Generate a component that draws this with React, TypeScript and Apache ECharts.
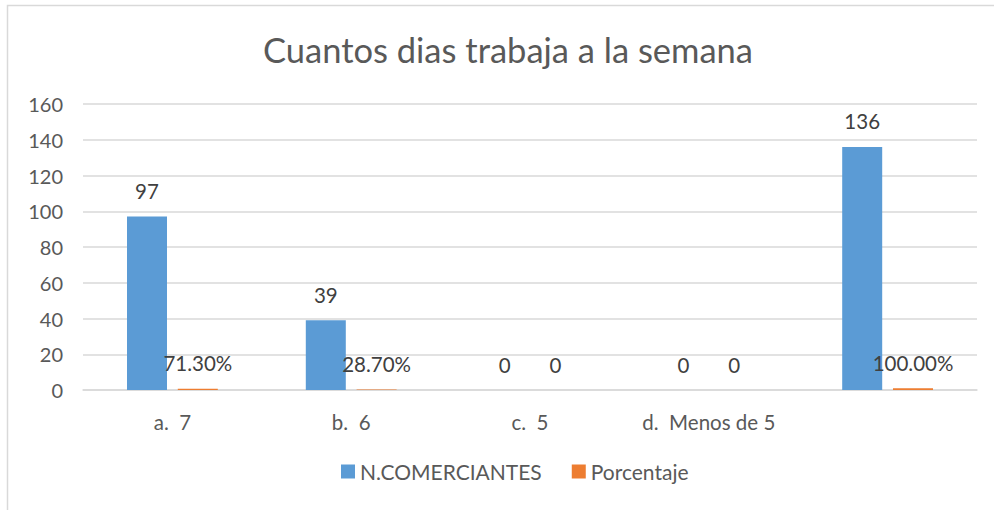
import React, { useEffect, useRef } from "react";
import * as echarts from "echarts";

const categories = ["a.  7", "b.  6", "c.  5", "d.  Menos de 5", ""];
const comerciantes = [97, 39, 0, 0, 136];
const porcentaje = [0.713, 0.287, 0, 0, 1];
const yTicks = { min: 0, max: 160, interval: 20 };

const FONT = "Lato, 'Open Sans', sans-serif";
const TEXT = "#595959";

export default function App() {
  const ref = useRef<HTMLDivElement>(null);
  useEffect(() => {
    if (!ref.current) return;
    const chart = echarts.init(ref.current, null, { renderer: "svg" });
    chart.setOption({
      animation: false,
      textStyle: { fontFamily: FONT },
      title: {
        text: "Cuantos dias trabaja a la semana",
        left: 258,
        top: 27,
        textStyle: { fontFamily: FONT, fontSize: 34.5, fontWeight: "normal", color: TEXT },
      },
      graphic: [
        {
          type: "rect",
          shape: { x: 7.5, y: 5.5, width: 1000, height: 520 },
          style: { fill: "none", stroke: "#D9D9D9", lineWidth: 1.5 },
          silent: true,
        },
      ],
      legend: {
        bottom: 23,
        left: 336,
        itemWidth: 14,
        itemHeight: 14,
        itemGap: 30,
        icon: "rect",
        textStyle: { fontFamily: FONT, fontSize: 21, color: TEXT },
        data: ["N.COMERCIANTES", "Porcentaje"],
      },
      grid: { left: 83, right: 17, top: 104, bottom: 120, containLabel: false },
      xAxis: {
        type: "category",
        data: categories,
        axisLine: { lineStyle: { color: "#D9D9D9", width: 1.5 } },
        axisTick: { show: false },
        axisLabel: { fontFamily: FONT, fontSize: 20.5, color: TEXT, margin: 21 },
      },
      yAxis: {
        type: "value",
        min: yTicks.min,
        max: yTicks.max,
        interval: yTicks.interval,
        axisLine: { show: false },
        axisTick: { show: false },
        splitLine: { lineStyle: { color: "#D9D9D9", width: 1.5 } },
        axisLabel: { fontFamily: FONT, fontSize: 20, color: TEXT, margin: 20 },
      },
      series: [
        {
          name: "N.COMERCIANTES",
          type: "bar",
          data: comerciantes,
          barWidth: 40,
          barGap: "27%",
          itemStyle: { color: "#5B9BD5" },
          label: {
            show: true,
            position: "top",
            distance: 15,
            fontFamily: FONT,
            fontSize: 20.5,
            color: "#404040",
          },
        },
        {
          name: "Porcentaje",
          type: "bar",
          data: porcentaje,
          barWidth: 40,
          itemStyle: { color: "#ED7D31" },
          label: {
            show: true,
            position: "top",
            distance: 15,
            fontFamily: FONT,
            fontSize: 20.5,
            color: "#404040",
            formatter: (p: any) => (p.value === 0 ? "0" : (p.value * 100).toFixed(2) + "%"),
          },
        },
      ],
    });
    return () => chart.dispose();
  }, []);
  return (
    <div
      ref={ref}
      style={{ position: "fixed", left: 0, top: 0, width: 994, height: 510, background: "#fff" }}
    />
  );
}
